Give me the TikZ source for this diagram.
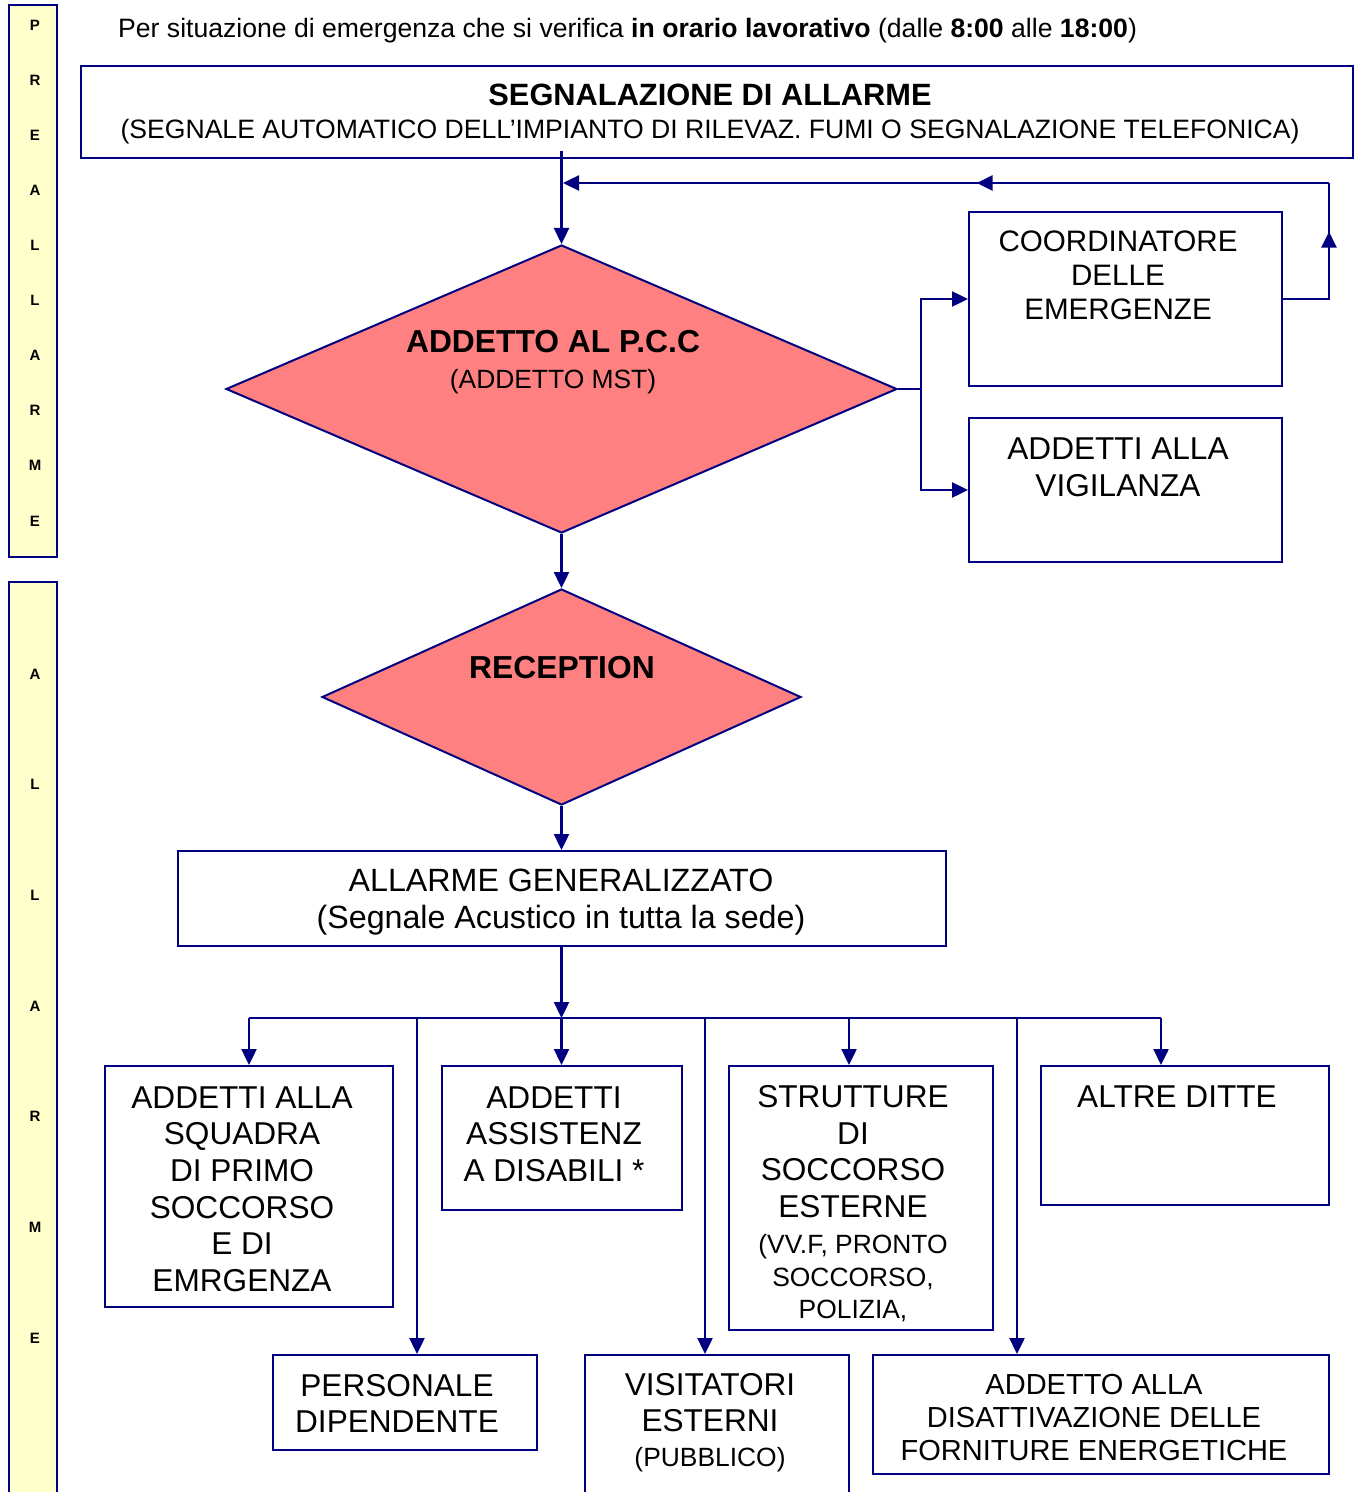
\documentclass[tikz,border=0pt]{standalone}
\usepackage{fontspec}
\setmainfont{Liberation Sans}
\usetikzlibrary{shapes.geometric,arrows.meta,decorations.markings,positioning}
\definecolor{navyline}{RGB}{0,0,128}
\definecolor{pccred}{RGB}{255,128,128}
\definecolor{sideyellow}{RGB}{255,255,204}

\begin{document}
\begin{tikzpicture}[x=0.5pt,y=-0.5pt,>={Triangle[length=8pt,width=7.5pt]},line width=1.2pt]
    \tikzstyle{box}=[rectangle,draw=navyline,line width=1pt,inner sep=0pt]
    \tikzstyle{rombo}=[diamond,draw=navyline,fill=pccred,line width=1pt,inner sep=0pt]
    \tikzstyle{side}=[rectangle,draw=navyline,fill=sideyellow,line width=1pt,inner sep=0pt]
    \tikzstyle{lettera}=[inner sep=0pt,font=\bfseries\fontsize{7.5}{8}\selectfont]
    \tikzstyle{big}=[inner sep=0pt,align=center,font=\fontsize{15.8}{18.3}\selectfont]
    \tikzstyle{mid}=[inner sep=0pt,align=center,font=\fontsize{14.5}{16.5}\selectfont]
    \tikzstyle{flow}=[draw=navyline,line width=1.2pt]
    \tikzstyle{arr}=[flow,->]
    \tikzset{midarrow/.style={decoration={markings,mark=at position #1 with {\arrow{>}}},postaction={decorate}}}
    \newcommand{\piccolo}{\fontsize{13.2}{16}\selectfont}

    \useasboundingbox (0,0) rectangle (1354,1492);

    % barre laterali
    \node[side,minimum width=24pt,minimum height=276pt] (pre) at (33,281) {};
    \node[side,minimum width=24pt,minimum height=470pt] (all) at (33,1052) {};
    \foreach \l [count=\i] in {P,R,E,A,L,L,A,R,M,E}
        \node[lettera] (pre\i) at (35,{25+55.1*(\i-1)}) {\l};
    \foreach \l [count=\i] in {A,L,L,A,R,M,E}
        \node[lettera] (all\i) at (35,{674+110.7*(\i-1)}) {\l};

    \node[anchor=west,inner sep=0pt,font=\fontsize{13.3}{15}\selectfont] (titolo) at (117,31)
        {Per situazione di emergenza che si verifica \textbf{in orario lavorativo} (dalle \textbf{8:00} alle \textbf{18:00})};

    % blocchi
    \node[box,minimum width=636pt,minimum height=46pt] (alarm) at (717,112) {};
    \node[rombo,minimum width=335.5pt,minimum height=144pt] (pcc) at (561.5,389) {};
    \node[box,minimum width=156.5pt,minimum height=87pt] (coord) at (1125.5,299) {};
    \node[box,minimum width=156.5pt,minimum height=72pt] (vigil) at (1125.5,490) {};
    \node[rombo,minimum width=239.5pt,minimum height=108pt] (rec) at (561.5,697) {};
    \node[box,minimum width=384pt,minimum height=47.5pt] (allgen) at (561.5,898.5) {};
    \node[box,minimum width=144pt,minimum height=120.5pt] (squadra) at (249,1186.5) {};
    \node[box,minimum width=120pt,minimum height=72pt] (assist) at (561.5,1138) {};
    \node[box,minimum width=132pt,minimum height=132pt] (strutt) at (861,1198) {};
    \node[box,minimum width=144pt,minimum height=69.5pt] (altre) at (1185,1135.5) {};
    \node[box,minimum width=132pt,minimum height=47.5pt] (pers) at (405,1402.5) {};
    \node[box,minimum width=132pt,minimum height=80pt] (visit) at (717,1435) {};
    \node[box,minimum width=228pt,minimum height=59.5pt] (disatt) at (1101,1414.5) {};

    % testi
    \node[inner sep=0pt,align=center,font=\fontsize{13.3}{16.5}\selectfont] (alarmT) at (710,114)
        {{\bfseries\fontsize{15.4}{16.5}\selectfont SEGNALAZIONE DI ALLARME}\\(SEGNALE AUTOMATICO DELL’IMPIANTO DI RILEVAZ. FUMI O SEGNALAZIONE TELEFONICA)};
    \node[inner sep=0pt,align=center,font=\fontsize{15.9}{18}\selectfont] (pccT) at (553,362)
        {\textbf{ADDETTO AL P.C.C}\\{\piccolo (ADDETTO MST)}};
    \node[big,font=\fontsize{14.8}{17}\selectfont] (coordT) at (1118,275) {COORDINATORE\\DELLE\\EMERGENZE};
    \node[big,font=\fontsize{15.8}{18.5}\selectfont] (vigilT) at (1118,467.5) {ADDETTI ALLA\\VIGILANZA};
    \node[inner sep=0pt,font=\bfseries\fontsize{15.9}{18}\selectfont] (recT) at (562,668) {RECEPTION};
    \node[big,font=\fontsize{16.1}{18.5}\selectfont] (allgenT) at (561,902) {ALLARME GENERALIZZATO\\(Segnale Acustico in tutta la sede)};
    \node[big] (squadraT) at (242,1189) {ADDETTI ALLA\\SQUADRA\\DI PRIMO\\SOCCORSO\\E DI\\EMRGENZA};
    \node[big] (assistT) at (554,1134) {ADDETTI\\ASSISTENZ\\A DISABILI *};
    \node[big] (struttT) at (853,1203.5) {STRUTTURE\\DI\\SOCCORSO\\ESTERNE\\{\piccolo (VV.F, PRONTO}\\[-2.2pt]{\piccolo SOCCORSO,}\\[-2.2pt]{\piccolo POLIZIA,}};
    \node[big] (altreT) at (1177,1097) {ALTRE DITTE};
    \node[big] (persT) at (397,1403.5) {PERSONALE\\DIPENDENTE};
    \node[big] (visitT) at (710,1422.5) {VISITATORI\\ESTERNI\\[-1pt]{\piccolo (PUBBLICO)}};
    \node[mid] (disattT) at (1094,1417) {ADDETTO ALLA\\DISATTIVAZIONE DELLE\\FORNITURE ENERGETICHE};

    % collegamenti
    \draw[arr] ([yshift=4pt]alarm.south -| pcc.north) -- (pcc.north);
    \coordinate (fbR) at (1329,183);
    \coordinate (fbL) at (563,183);
    \draw[flow,midarrow=0.7] (coord.east) -| (fbR);
    \draw[arr,midarrow=0.46] (fbR) -- (fbL);

    \coordinate (split) at (921,389);
    \draw[flow] (pcc.east) -- (split);
    \draw[arr] (split) |- (coord.west);
    \draw[arr] (split) |- (vigil.west);

    \draw[arr] (pcc.south) -- (rec.north);
    \draw[arr] (rec.south) -- (allgen.north);

    \coordinate (bus) at (561.5,1018);
    \coordinate (busL) at (249,1018);
    \coordinate (busR) at (1161,1018);
    \draw[arr] (allgen.south) -- (bus);
    \draw[flow] (busL) -- (busR);
    \foreach \x/\t in {249/squadra,417/pers,561.5/assist,705/visit,849/strutt,1017/disatt,1161/altre} {
        \coordinate (d\t) at (\x,1018);
        \draw[arr] (d\t) -- (\t.north -| d\t);
    }
\end{tikzpicture}
\end{document}
